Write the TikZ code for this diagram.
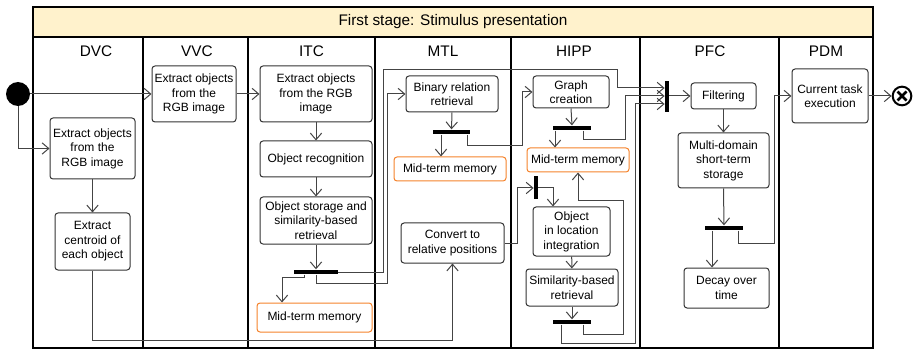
\documentclass[tikz,border=0pt]{standalone}
\usepackage{fontspec}
\setmainfont{Liberation Sans}
\usetikzlibrary{arrows.meta}
\definecolor{hdr}{HTML}{FFF2CC}
\definecolor{orng}{HTML}{F5822B}
\definecolor{ln}{HTML}{444444}
\definecolor{bx}{HTML}{333333}
\begin{document}
\begin{tikzpicture}[x=0.75pt,y=-0.75pt,
  box/.style={draw=bx, line width=0.75pt, rounded corners=2.25pt, align=center,
    font=\fontsize{9}{10.9}\selectfont, inner sep=0pt},
  mem/.style={box, draw=orng},
  hbar/.style={fill=black, inner sep=0pt, minimum height=3.6pt},
  vbar/.style={fill=black, inner sep=0pt, minimum width=3.2pt},
  conn/.style={draw=ln, line width=0.75pt, -{Straight Barb[length=5pt,width=8.5pt]}},
  lane/.style={draw=black, line width=0.9pt},
  ttl/.style={font=\fontsize{11.5}{13}\selectfont}]
\useasboundingbox (0,0) rectangle (914,349);
% pool
\fill[hdr] (33,7) rectangle (873,37);
\draw[lane] (33,7) rectangle (873,348);
\draw[lane] (33,37) -- (873,37);
\foreach \x in {143,248,375,511,640,779} \draw[lane] (\x,37) -- (\x,348);
\node[ttl] (title) at (453,22) {First stage: Stimulus presentation};
\node[ttl] (tdvc) at (96,51) {DVC};
\node[ttl] (tvvc) at (197,51) {VVC};
\node[ttl] (titc) at (311.5,51) {ITC};
\node[ttl] (tmtl) at (443,51) {MTL};
\node[ttl] (thipp) at (574,51) {HIPP};
\node[ttl] (tpfc) at (710,51) {PFC};
\node[ttl] (tpdm) at (826,51) {PDM};
% start / end
\node[circle, fill=black, minimum size=18pt, inner sep=0pt] (start) at (18,94) {};
\node[circle, draw=black, line width=1.5pt, minimum size=14pt, inner sep=0pt, fill=white] (end) at (902,96) {};
\draw[line width=2pt] (end.center) ++(-4.5,-4.5) -- ++(9,9);
\draw[line width=2pt] (end.center) ++(-4.5,4.5) -- ++(9,-9);
% boxes
\node[box, minimum width=63.75pt, minimum height=45.75pt] (dvc1) at (92.5,148.5) {Extract objects\\from the\\RGB image};
\node[box, minimum width=56.25pt, minimum height=42.75pt] (dvc2) at (92.5,241.5) {Extract\\centroid of\\each object};
\node[box, minimum width=63pt, minimum height=42pt] (vvc) at (194,94) {Extract objects\\from the\\RGB image};
\node[box, minimum width=84pt, minimum height=42pt] (itc1) at (316,94) {Extract objects\\from the RGB\\image};
\node[box, minimum width=84pt, minimum height=27pt] (itc2) at (316,159) {Object recognition};
\node[box, minimum width=84pt, minimum height=35.25pt] (itc3) at (316,220.5) {Object storage and\\similarity-based\\retrieval};
\node[mem, minimum width=86.25pt, minimum height=21.75pt] (itcmem) at (314.5,317.5) {Mid-term memory};
\node[box, minimum width=69pt, minimum height=27pt] (bin) at (452,94) {Binary relation\\retrieval};
\node[mem, minimum width=84pt, minimum height=18pt] (mtlmem) at (450,169) {Mid-term memory};
\node[box, minimum width=77.25pt, minimum height=30pt] (conv) at (452.5,243) {Convert to\\relative positions};
\node[box, minimum width=57pt, minimum height=24pt] (graph) at (571,92) {Graph\\creation};
\node[mem, minimum width=76.5pt, minimum height=18pt] (hipmem) at (578,160) {Mid-term memory};
\node[box, minimum width=57.75pt, minimum height=36.75pt] (oil) at (571.5,231.5) {Object\\in location\\integration};
\node[box, minimum width=69pt, minimum height=27.75pt] (sim) at (572,287.5) {Similarity-based\\retrieval};
\node[box, minimum width=48.75pt, minimum height=19.5pt] (filt) at (723.5,96) {Filtering};
\node[box, minimum width=68.25pt, minimum height=41.25pt] (multi) at (723.5,160.5) {Multi-domain\\short-term\\storage};
\node[box, minimum width=63.75pt, minimum height=30pt] (decay) at (726.5,288) {Decay over\\time};
\node[box, minimum width=57pt, minimum height=40.5pt] (cur) at (830,96) {Current task\\execution};
% bars
\node[hbar, minimum width=33pt] (itcbar) at (316,272) {};
\node[hbar, minimum width=27.75pt] (binbar) at (451.5,132) {};
\node[hbar, minimum width=28.5pt] (graphbar) at (572,128) {};
\node[hbar, minimum width=28.5pt] (simbar) at (572,322) {};
\node[hbar, minimum width=28.5pt] (multibar) at (724,228) {};
\node[vbar, minimum height=23.25pt] (pfcbar) at (667,96.5) {};
\node[vbar, minimum height=17.25pt] (hsbar) at (536,187.5) {};
% connectors
\draw[conn] (start.east) -- (vvc.west);
\draw[conn] (start.south) |- (dvc1.west);
\draw[conn] (dvc1) -- (dvc2);
\draw[conn] (dvc2.south) -- (92.5,340) -| (conv.south);
\draw[conn] (vvc) -- (itc1);
\draw[conn] (itc1) -- (itc2);
\draw[conn] (itc2) -- (itc3);
\draw[conn] (itc3.south) -- (itcbar.north);
\draw[conn] (itcbar.south -| 304,0) -- (304,277) -- (282,277) -- (itcmem.north -| 282,0);
\draw[conn] (itcbar.east) -- (383,272) -- (383,70) -- (617,70) -- (617,88) -- (pfcbar.west |- 0,88);
\draw[conn] (itcbar.south) -- (316,283) -- (387,283) -- (387,94) -- (bin.west);
\draw[conn] (bin.south) -- (binbar.north);
\draw[conn] (binbar.south -| 441,0) -- (mtlmem.north -| 441,0);
\draw[conn] (binbar.south -| 467,0) -- (467,146) -- (522,146) -- (522,92) -- (graph.west);
\draw[conn] (graph.south) -- (graphbar.north);
\draw[conn] (graphbar.south -| 555,0) -- (hipmem.north -| 555,0);
\draw[conn] (graphbar.south -| 583,0) -- (583,140) -- (625,140) -- (625,96) -- (pfcbar.west |- 0,96);
\draw[conn] (conv.east) -- (517,243) -- (517,188) -- (hsbar.west |- 0,188);
\draw[conn] (hsbar.east |- 0,188) -- (553,188) -- (oil.north -| 553,0);
\draw[conn] (oil) -- (sim);
\draw[conn] (sim.south) -- (simbar.north);
\draw[conn] (simbar.south -| 583,0) -- (583,334) -- (623,334) -- (623,201) -- (578,201) -- (hipmem.south -| 578,0);
\draw[conn] (simbar.south -| 561,0) -- (561,343) -- (635,343) -- (635,104) -- (pfcbar.west |- 0,104);
\draw[conn] (pfcbar.east |- 0,96) -- (filt.west);
\draw[conn] (filt) -- (multi);
\draw[conn] (multi.south) -- (multibar.north);
\draw[conn] (multibar.south -| 712,0) -- (decay.north -| 712,0);
\draw[conn] (multibar.south -| 738,0) -- (738,243) -- (774,243) -- (774,96) -- (cur.west);
\draw[conn] (cur.east) -- (end.west);
\end{tikzpicture}
\end{document}
